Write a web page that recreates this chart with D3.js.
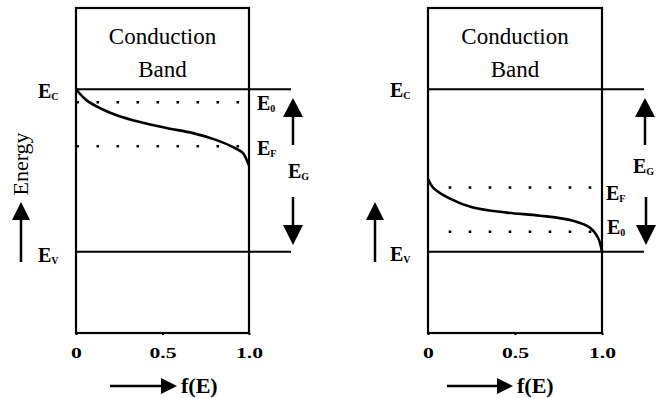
<!DOCTYPE html>
<html>
<head>
<meta charset="utf-8">
<script src="https://cdn.jsdelivr.net/npm/d3@7"></script>
<style>
  body { margin: 0; background: #fff; }
  svg { display: block; }
  svg text { font-family: "Liberation Serif", "Times New Roman", "DejaVu Serif", serif; }
</style>
</head>
<body>
<div id="chart"></div>
<script>
// f(E) axis ticks
const fTicks = [0, 0.5, 1.0]
const fTickLabels = ['0', '0.5', '1.0']

// energy levels (Ev = 0, Ec = 1)
const bandLevels = { Ec: 1, Ev: 0 }
const leftLevels = { E0: 0.92, EF: 0.65 }
const rightLevels = { EF: 0.395, E0: 0.123 }

// distribution curves
const leftCurveF = [0, 0.06, 0.14, 0.235, 0.37, 0.524, 0.676, 0.813, 0.908, 0.965, 0.994, 1.0]
const leftCurveE = [1.0, 0.933, 0.883, 0.84, 0.798, 0.761, 0.73, 0.687, 0.644, 0.607, 0.546, 0.53]
const rightCurveF = [0, 0.029, 0.126, 0.259, 0.454, 0.644, 0.833, 0.931, 0.977, 1.0]
const rightCurveE = [0.45, 0.395, 0.327, 0.272, 0.241, 0.222, 0.191, 0.148, 0.086, 0.0]

const width = 669
const height = 398
const serif = '"Liberation Serif", "Times New Roman", "DejaVu Serif", serif'

const svg = d3.select('#chart')
    .append('svg')
    .attr('width', width)
    .attr('height', height)

svg.append('rect')
    .attr('width', width)
    .attr('height', height)
    .attr('fill', '#fff')

// arrows drawn as line + triangle
const arrowUp = (g, x, tip, base, tail, hw) => {
    g.append('line')
        .attr('x1', x).attr('x2', x)
        .attr('y1', base).attr('y2', tail)
        .attr('stroke', '#000').attr('stroke-width', 2.5)
    g.append('path')
        .attr('d', `M${x},${tip}L${x - hw},${base}L${x + hw},${base}Z`)
        .attr('fill', '#000')
}
const arrowDown = (g, x, tail, base, tip, hw) => {
    g.append('line')
        .attr('x1', x).attr('x2', x)
        .attr('y1', tail).attr('y2', base)
        .attr('stroke', '#000').attr('stroke-width', 2.5)
    g.append('path')
        .attr('d', `M${x},${tip}L${x - hw},${base}L${x + hw},${base}Z`)
        .attr('fill', '#000')
}
const arrowRight = (g, x1, base, tip, y, hh) => {
    g.append('line')
        .attr('x1', x1).attr('x2', base)
        .attr('y1', y).attr('y2', y)
        .attr('stroke', '#000').attr('stroke-width', 2.5)
    g.append('path')
        .attr('d', `M${tip},${y}L${base},${y - hh}L${base},${y + hh}Z`)
        .attr('fill', '#000')
}

const subLabel = (g, x, y, main, sub) => {
    const t = g.append('text')
        .attr('x', x).attr('y', y)
        .style('font-family', serif)
        .attr('font-weight', 'bold')
        .attr('font-size', 20)
        .text(main)
    t.append('tspan')
        .attr('font-size', 10)
        .attr('dy', 2)
        .text(sub)
}

const drawPanel = opts => {
    const x = d3.scaleLinear().domain([0, 1]).range(opts.xRange)
    const y = d3.scaleLinear().domain([-0.5, 1.5]).range([333, 8])
    const g = svg.append('g')

    // conduction band text
    const cx = (opts.xRange[0] + opts.xRange[1]) / 2
    g.append('text')
        .attr('x', cx).attr('y', 44)
        .attr('text-anchor', 'middle')
        .style('font-family', serif)
        .attr('font-size', 23)
        .text('Conduction')
    g.append('text')
        .attr('x', cx).attr('y', 77)
        .attr('text-anchor', 'middle')
        .style('font-family', serif)
        .attr('font-size', 23)
        .text('Band')

    // dotted levels
    Object.values(opts.levels).forEach(lv => {
        g.append('line')
            .attr('x1', x(opts.dotStart)).attr('x2', x(0.97))
            .attr('y1', y(lv)).attr('y2', y(lv))
            .attr('stroke', '#000')
            .attr('stroke-width', 2.5)
            .attr('stroke-linecap', 'square')
            .attr('stroke-dasharray', '0.1 19.9')
    })

    // band edges
    Object.values(bandLevels).forEach(lv => {
        g.append('line')
            .attr('x1', x(0)).attr('x2', x(0) + opts.lineLen)
            .attr('y1', y(lv)).attr('y2', y(lv))
            .attr('stroke', '#000')
            .attr('stroke-width', 2.2)
    })

    // frame
    g.append('rect')
        .attr('x', x(0)).attr('y', y(1.5))
        .attr('width', x(1) - x(0))
        .attr('height', y(-0.5) - y(1.5))
        .attr('fill', 'none')
        .attr('stroke', '#000')
        .attr('stroke-width', 2.2)

    // f(E) curve
    const pts = opts.curveF.map((f, i) => [f, opts.curveE[i]])
    g.append('path')
        .datum(pts)
        .attr('d', d3.line()
            .x(d => x(d[0]))
            .y(d => y(d[1]))
            .curve(d3.curveCatmullRom))
        .attr('fill', 'none')
        .attr('stroke', '#000')
        .attr('stroke-width', 2.6)

    // axis ticks
    const axis = g.append('g')
        .attr('transform', `translate(0,${y(-0.5)})`)
        .call(d3.axisBottom(x)
            .tickValues(fTicks)
            .tickFormat((d, i) => fTickLabels[i])
            .tickSize(2)
            .tickPadding(13))
    axis.select('.domain').remove()
    axis.selectAll('line').attr('stroke-width', 2)
    axis.selectAll('text')
        .style('font-family', serif)
        .attr('font-weight', 'bold')
        .attr('font-size', 14)
        .attr('fill', '#000')
        .attr('transform', 'scale(1.55,1)')

    // level labels
    subLabel(g, x(0) - 38, opts.ecY, 'E', 'C')
    subLabel(g, x(0) - 38, opts.evY, 'E', 'V')
    opts.labels.forEach(l => subLabel(g, l.x, l.y, 'E', l.sub))

    // gap arrows
    const ax = opts.gapX
    arrowUp(g, ax, 98, 117, 145, 10)
    arrowDown(g, ax + opts.downShift, 197, 225, 245, 10)

    // energy arrow
    arrowUp(g, opts.energyX, 202, 220, 262, 9)

    // f(E) arrow
    arrowRight(g, opts.fArrow[0], opts.fArrow[1] - 16, opts.fArrow[1], 386, 8)
    g.append('text')
        .attr('x', opts.fArrow[1] + 4).attr('y', 393)
        .style('font-family', serif)
        .attr('font-weight', 'bold')
        .attr('font-size', 22)
        .text('f(E)')
}

drawPanel({
    xRange: [76, 249],
    levels: leftLevels,
    dotStart: 0.01,
    lineLen: 215,
    curveF: leftCurveF,
    curveE: leftCurveE,
    ecY: 98,
    evY: 262,
    labels: [
        { x: 257, y: 110, sub: '0' },
        { x: 257, y: 155, sub: 'F' },
        { x: 288, y: 178, sub: 'G' }
    ],
    gapX: 293,
    downShift: 0,
    energyX: 21,
    fArrow: [110, 177]
})

drawPanel({
    xRange: [428, 602],
    levels: rightLevels,
    dotStart: 0.126,
    lineLen: 216,
    curveF: rightCurveF,
    curveE: rightCurveE,
    ecY: 97,
    evY: 261,
    labels: [
        { x: 606, y: 200, sub: 'F' },
        { x: 607, y: 234, sub: '0' },
        { x: 633, y: 173, sub: 'G' }
    ],
    gapX: 645,
    downShift: 1,
    energyX: 375,
    fArrow: [447, 513]
})

// rotated axis title
svg.append('text')
    .attr('transform', 'translate(28,164) rotate(-90)')
    .attr('text-anchor', 'middle')
    .style('font-family', serif)
    .attr('font-size', 22)
    .text('Energy')
</script>
</body>
</html>
